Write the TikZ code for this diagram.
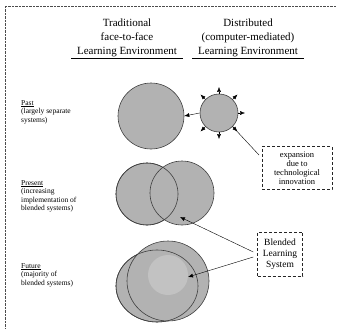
\documentclass[tikz,border=0pt]{standalone}
\usepackage{fontspec}
\setmainfont{Liberation Serif}
\usetikzlibrary{shapes.geometric,arrows.meta,calc}
\begin{document}
\begin{tikzpicture}[x=1pt,y=-1pt,
  hdr/.style={font=\fontsize{11}{14}\selectfont, align=center, inner sep=0},
  lbl/.style={font=\fontsize{7.5}{8.5}\selectfont, align=left, anchor=north west, inner sep=0},
  bx/.style={draw=black!85, densely dashed, thin, align=center, inner sep=1pt},
  disc/.style={circle, draw=black!75, line width=0.6pt, fill=black!30, inner sep=0},
  oval/.style={ellipse, draw=black!75, line width=0.6pt, fill=black!30, inner sep=0},
  rim/.style={draw=black!75, line width=0.6pt},
  arr/.style={-{Latex[length=5pt,width=4pt]}, thin}
]
\useasboundingbox (0,0) rectangle (337,329);
% frame
\draw[densely dotted, black!70] (337,6) -- (5,6) -- (5,329);
% headers
\node[hdr] (h1) at (127,38) {Traditional\\face-to-face\\Learning Environment};
\node[hdr] (h2) at (248,38) {Distributed\\(computer-mediated)\\Learning Environment};
\draw[line width=1pt] (71,59) -- (183,59);
\draw[line width=1pt] (192,59) -- (304,59);
% row labels
\node[lbl] (lpast) at (21,100) {\underline{Past}\\(largely separate\\systems)};
\node[lbl] (lpres) at (21,180) {\underline{Present}\\(increasing\\implementation of\\blended systems)};
\node[lbl] (lfut) at (21,263) {\underline{Future}\\(majority of\\blended systems)};
% past
\node[disc, minimum size=66] (pT) at (151,116) {};
\node[disc, minimum size=38] (pD) at (219,113) {};
\draw[arr] (pD.west) -- (pT.east);
\foreach \a in {0,45,90,135,225,270,315}
  \draw[arr] (pD.\a) -- ($(pD.center)!1.35!(pD.\a)$);
\node[bx, minimum width=70, minimum height=43, font=\fontsize{8.5}{9}\selectfont] (exp) at (297,168) {expansion\\due to\\technological\\innovation};
\coordinate (k) at (259,155);
\draw[thin] (pD.-45) -- (k);
% present
\node[disc, minimum size=62] (sT) at (147,194) {};
\node[disc, minimum size=64] (sD) at (182,193) {};
\draw[rim] (sT.center) circle[radius=31pt];
% future
\node[oval, minimum width=82, minimum height=72] (fT) at (157,286) {};
\node[oval, minimum width=82, minimum height=80] (fD) at (168,281) {};
\fill[black!24] (168,275) circle[radius=20pt];
\draw[rim] (fT.center) ellipse[x radius=41pt, y radius=36pt];
% blended box
\node[bx, minimum width=45, minimum height=44, font=\fontsize{9.5}{11}\selectfont] (bl) at (280,254) {Blended\\Learning\\System};
\coordinate (ov) at (180,217);
\coordinate (fc) at (188,277);
\draw[arr] ($(bl.west)+(-4,-2)$) -- (ov);
\draw[arr] ($(bl.west)+(-4,3)$) -- (fc);
\end{tikzpicture}
\end{document}
